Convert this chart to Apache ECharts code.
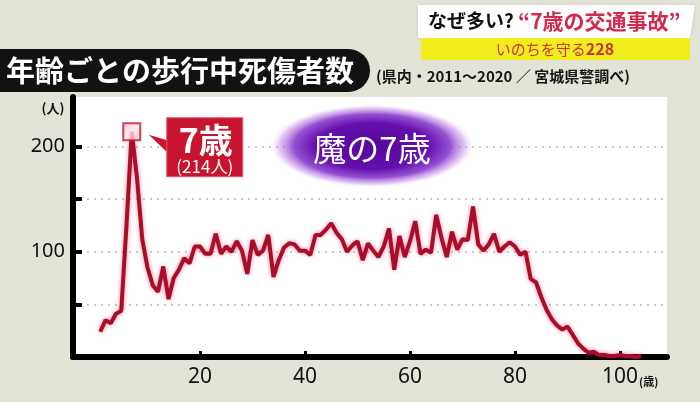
<!DOCTYPE html>
<html><head><meta charset="utf-8">
<script src="https://cdn.jsdelivr.net/npm/echarts@6/dist/echarts.min.js"></script>
<style>html,body{margin:0;padding:0;background:#e3e3d8}#c{width:700px;height:402px}</style>
</head><body><div id="c"></div>
<script>
// ---- data ----
const ages = [1,2,3,4,5,6,7,8,9,10,11,12,13,14,15,16,17,18,19,20,21,22,23,24,25,26,27,28,29,30,
  31,32,33,34,35,36,37,38,39,40,41,42,43,44,45,46,47,48,49,50,51,52,53,54,55,56,57,58,59,60,
  61,62,63,64,65,66,67,68,69,70,71,72,73,74,75,76,77,78,79,80,81,82,83,84,85,86,87,88,89,90,
  91,92,93,94,95,96,97,98,99,100,101,102,103,104];
const casualties = [24,35,32,41,44,125,214,170,112,85,68,62,86,55,75,83,94,89,105,105,
  98,98,117,98,105,100,110,101,79,111,97,101,116,76,92,104,108,107,101,101,
  97,116,116,121,127,118,112,100,106,110,92,108,101,95,105,122,83,115,95,110,
  129,98,102,99,135,113,95,119,102,112,111,143,107,101,107,117,100,105,109,105,
  97,100,74,71,57,45,36,30,26,29,21,13,8,4,5,2,2,1,1,2,1,1,0,1];
const xTickValues = [20,40,60,80,100];
const yTickValues = [50,100,150,200];
const yTickLabels = [100,200];
const peakAge = 7;
const peakValue = casualties[ages.indexOf(peakAge)];

const titleText = '年齢ごとの歩行中死傷者数';
const subtitleText = '(県内・2011～2020 ／ 宮城県警調べ)';

const lineData = ages.map((a, i) => [a, casualties[i]]);
const FONT = '"Noto Sans CJK JP", "Noto Sans", sans-serif';

const chart = echarts.init(document.getElementById('c'), null, {renderer: 'canvas'});
const option = {
  backgroundColor: '#e3e3d8',
  animation: false,
  grid: {left: 73, right: 33, top: 97, bottom: 45, show: true, backgroundColor: '#ffffff', borderWidth: 0},
  xAxis: {
    type: 'value', min: -4.19, max: 108.95,
    axisLine: {show: true, onZero: false, lineStyle: {color: '#000', width: 6}},
    axisTick: {show: true, inside: true, length: 6, lineStyle: {color: '#000', width: 3}, customValues: xTickValues},
    axisLabel: {customValues: xTickValues, color: '#111', fontSize: 21, fontFamily: '"Noto Sans", sans-serif', margin: 10},
    splitLine: {show: false}
  },
  yAxis: {
    type: 'value', min: 0, max: 247,
    axisLine: {show: true, onZero: false, lineStyle: {color: '#000', width: 6}},
    axisTick: {show: true, inside: true, length: 9, lineStyle: {color: '#000', width: 4}, customValues: yTickValues},
    axisLabel: {customValues: yTickLabels, color: '#111', fontSize: 20, fontFamily: '"Noto Sans", sans-serif', margin: 8},
    splitLine: {show: true, lineStyle: {color: '#c9c9c9', width: 2, type: [2, 5]}}
  },
  series: [
    {
      type: 'line', data: lineData, symbol: 'none', z: 5,
      lineStyle: {color: '#a90d2a', width: 4, shadowColor: 'rgba(230,20,60,0.5)', shadowBlur: 4}
    },
    {
      type: 'scatter', data: [[peakAge, peakValue]], symbol: 'rect', symbolSize: 17, z: 6,
      itemStyle: {
        color: {type: 'linear', x: 0, y: 0, x2: 1, y2: 1, colorStops: [{offset: 0, color: '#f4b8c6'}, {offset: 0.5, color: '#fde8ee'}, {offset: 1, color: '#f2b0c0'}]},
        borderColor: '#c0143a', borderWidth: 2
      }
    }
  ]
};
chart.setOption(option);

const p = chart.convertToPixel({seriesIndex: 0}, [peakAge, peakValue]);
const px = p[0], py = p[1];

chart.setOption({
  graphic: [
    // title pill
    {type: 'rect', shape: {x: -30, y: 49, width: 400, height: 43, r: [0, 22, 22, 0]}, style: {fill: '#121212'}, z: 10},
    {type: 'text', x: 6, y: 71, style: {text: titleText, fill: '#fff', font: 'bold 29px ' + FONT, verticalAlign: 'middle'}, z: 11},
    {type: 'text', x: 376, y: 76, style: {text: subtitleText, fill: '#151515', font: 'bold 15px ' + FONT, verticalAlign: 'middle'}, z: 11},
    // top-right banner
    {type: 'polygon', shape: {points: [[418, 5], [695, 5], [690, 38], [418, 38]]}, style: {fill: '#ffffff', shadowColor: 'rgba(0,0,0,0.15)', shadowBlur: 3}, z: 10},
    {type: 'rect', shape: {x: 421, y: 38, width: 269, height: 22}, style: {fill: '#f2ed1c'}, z: 10},
    {type: 'text', x: 428, y: 21, style: {
      text: '{a|なぜ多い? }{b|“7歳の交通事故”}', verticalAlign: 'middle',
      rich: {a: {font: 'bold 19px ' + FONT, fill: '#111'}, b: {font: 'bold 21px ' + FONT, fill: '#d3294c'}}
    }, z: 11},
    {type: 'text', x: 555, y: 49, style: {
      text: '{a|いのちを守る}{b|228}', align: 'center', verticalAlign: 'middle',
      rich: {a: {font: '15px ' + FONT, fill: '#c83234'}, b: {font: 'bold 16px ' + FONT, fill: '#c83234'}}
    }, z: 11},
    // axis unit labels
    {type: 'text', x: 53, y: 108, style: {text: '(人)', fill: '#111', font: 'bold 13px ' + FONT, align: 'center', verticalAlign: 'middle'}, z: 11},
    {type: 'text', x: 639, y: 382, style: {text: '(歳)', fill: '#111', font: 'bold 11px ' + FONT, verticalAlign: 'middle'}, z: 11},
    // purple glow
    {type: 'circle', x: 372, y: 146, scaleX: 2.45, scaleY: 1, shape: {cx: 0, cy: 0, r: 42},
      style: {fill: {type: 'radial', x: 0.5, y: 0.5, r: 0.5, colorStops: [
        {offset: 0, color: '#55099a'}, {offset: 0.55, color: '#650fae'}, {offset: 0.76, color: 'rgba(130,50,200,0.85)'},
        {offset: 0.9, color: 'rgba(190,130,230,0.45)'}, {offset: 1, color: 'rgba(255,255,255,0)'}]}}, z: 10},
    {type: 'text', x: 372, y: 148, style: {text: '魔の7歳', fill: '#ffffff', font: '33px ' + FONT, align: 'center', verticalAlign: 'middle', shadowColor: 'rgba(255,255,255,0.6)', shadowBlur: 3}, z: 11},
    // callout
    {type: 'polygon', shape: {points: [[px + 17, py + 3], [px + 37, py + 9], [px + 37, py + 22]]}, style: {fill: '#c8142f'}, z: 10},
    {type: 'rect', shape: {x: px + 35, y: py - 14, width: 76, height: 59}, style: {fill: '#c8142f', stroke: '#e25a6e', lineWidth: 1}, z: 10},
    {type: 'text', x: px + 74, y: py + 8, style: {text: peakAge + '歳', fill: '#fff', font: 'bold 34px ' + FONT, align: 'center', verticalAlign: 'middle'}, z: 11},
    {type: 'text', x: px + 73, y: py + 35, style: {text: '(' + peakValue + '人)', fill: '#fff', font: '17px ' + FONT, align: 'center', verticalAlign: 'middle'}, z: 11}
  ]
});
</script>
</body></html>
